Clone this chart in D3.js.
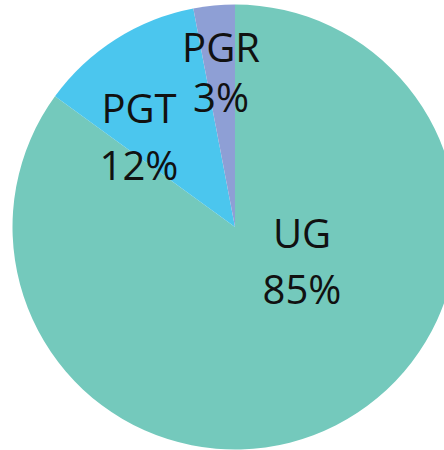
<!DOCTYPE html>
<html>
<head>
<meta charset="utf-8">
<script src="https://cdn.jsdelivr.net/npm/d3@7"></script>
<style>
  html, body { margin: 0; padding: 0; background: #fff; overflow: hidden; }
  svg { display: block; }
</style>
</head>
<body>
<svg id="chart" width="444" height="450"></svg>
<script>
const categories = ["UG", "PGT", "PGR"];
const values = [85, 12, 3];
const percentLabels = ["85%", "12%", "3%"];
const colors = ["#74C9BC", "#4BC6EE", "#8E9FD5"];

const svg = d3.select("#chart");
const cx = 235, cy = 227, r = 222.5;

const pie = d3.pie().sort(null).value(d => d.value);
const arc = d3.arc().innerRadius(0).outerRadius(r);

const data = categories.map((c, i) => ({ cat: c, value: values[i], label: percentLabels[i], color: colors[i] }));
const arcs = pie(data);

const g = svg.append("g").attr("transform", `translate(${cx},${cy})`);

g.selectAll("path").data(arcs).enter().append("path")
  .attr("d", arc)
  .attr("fill", d => d.data.color);

// label placement relative to pie centre: [x, baseline line1, baseline line2]
const labelPlace = { UG: [67, 21, 77], PGT: [-96, -104, -47], PGR: [-14, -165, -115] };
const fontSize = 40;

arcs.forEach(a => {
  const [dx, y1, y2] = labelPlace[a.data.cat];
  const t = g.append("text")
    .attr("text-anchor", "middle")
    .attr("font-family", "'Open Sans', sans-serif")
    .attr("font-size", fontSize)
    .attr("fill", "#111");
  t.append("tspan").attr("x", dx).attr("y", y1).text(a.data.cat);
  t.append("tspan").attr("x", dx).attr("y", y2).text(a.data.label);
});
</script>
</body>
</html>
